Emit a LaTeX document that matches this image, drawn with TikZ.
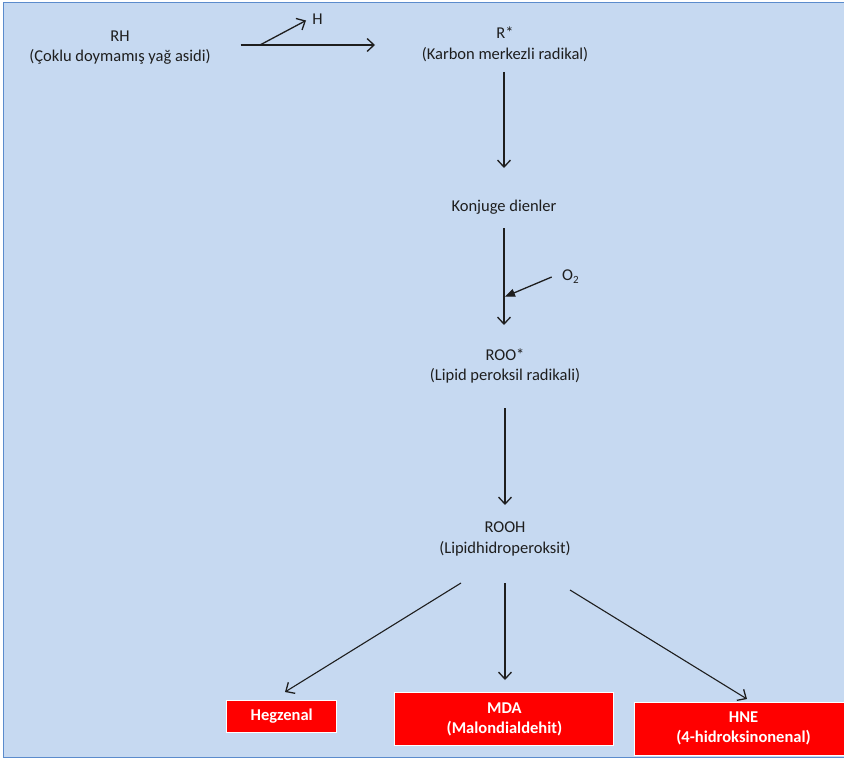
\documentclass[tikz,border=0pt]{standalone}
\usepackage{fontspec}
\setmainfont{Carlito}
\usetikzlibrary{arrows.meta}
\definecolor{panel}{HTML}{C6D9F1}
\definecolor{panelframe}{HTML}{5B8BCC}
\definecolor{ink}{HTML}{1E1E1E}
\definecolor{product}{HTML}{FF0000}

\begin{document}
\begin{tikzpicture}[x=1pt,y=-1pt,
  % base anchor of a two-line label sits on its last line
  txt/.style={font=\fontsize{16.5}{20.5}\selectfont, text=ink, align=center,
              inner sep=0pt, anchor=base},
  prod/.style={fill=product, draw=white, line width=1pt, text=white,
               font=\bfseries\fontsize{16.5}{19.5}\selectfont, align=center,
               inner sep=0pt},
  arr/.style={line width=1.3pt, ink,
              -{Straight Barb[length=7pt,width=13pt,line width=1.3pt]}},
  fillarr/.style={line width=1.3pt, ink,
              -{Triangle[length=10pt,width=8pt]}}]

\useasboundingbox (0,0) rectangle (844,760);

% panel background with its frame
\begin{scope}
  \clip (0,0) rectangle (844,760);
  \fill[white] (0,0) rectangle (844,760);
  \draw[panelframe, line width=1.6pt, fill=panel] (3.5,2.5) rectangle (870,757.5);
\end{scope}

% reaction species
\node[txt] (rh)    at (120,61.5)  {RH\\(Çoklu doymamış yağ asidi)};
\node[txt] (h)     at (317.5,25)  {H};
\node[txt] (rstar) at (505,59.5)  {R*\\(Karbon merkezli radikal)};
\node[txt] (dien)  at (504,211.5) {Konjuge dienler};
\node[txt, anchor=base west] (o2) at (562,280) {O\raisebox{-3.5pt}{\fontsize{11}{11}\selectfont 2}};
\node[txt] (roo)   at (505,380.5) {ROO*\\(Lipid peroksil radikali)};
\node[txt] (rooh)  at (505,553)   {ROOH\\(Lipidhidroperoksit)};

% end products
\node[prod, minimum width=110pt, minimum height=32pt] (hegz) at (281.7,716) {Hegzenal};
\node[prod, minimum width=219pt, minimum height=53pt] (mda)  at (504.4,719.2) {MDA\\(Malondialdehit)};
\begin{scope}
  \clip (0,0) rectangle (844,760);
  \node[prod, minimum width=219pt, minimum height=53pt] (hne) at (743.5,728.5) {HNE\\(4-hidroksinonenal)};
\end{scope}

% connector end points
\coordinate (rh-out)    at (240.7,45);
\coordinate (rstar-in)  at (375,45);
\coordinate (h-branch)  at (260,45);
\coordinate (h-in)      at (306,20.5);
\coordinate (rstar-out) at (504,72);
\coordinate (dien-in)   at (504,168);
\coordinate (dien-out)  at (504,228);
\coordinate (roo-in)    at (504,325);
\coordinate (o2-out)    at (551.7,277);
\coordinate (o2-in)     at (505,296.7);
\coordinate (roo-out)   at (505,408);
\coordinate (rooh-in)   at (505,505);
\coordinate (rooh-l)    at (461,583);
\coordinate (hegz-in)   at (285,692);
\coordinate (rooh-m)    at (505,583);
\coordinate (mda-in)    at (505,680);
\coordinate (rooh-r)    at (570,590);
\coordinate (hne-in)    at (747,699);

% connectors
\draw[arr] (rh-out) -- (rstar-in);
\draw[arr] (h-branch) -- (h-in);
\draw[arr] (rstar-out) -- (dien-in);
\draw[arr] (dien-out) -- (roo-in);
\draw[fillarr] (o2-out) -- (o2-in);
\draw[arr] (roo-out) -- (rooh-in);
\draw[arr, line width=1.1pt] (rooh-l) -- (hegz-in);
\draw[arr, line width=1.1pt] (rooh-m) -- (mda-in);
\draw[arr, line width=1.1pt] (rooh-r) -- (hne-in);
\end{tikzpicture}
\end{document}
